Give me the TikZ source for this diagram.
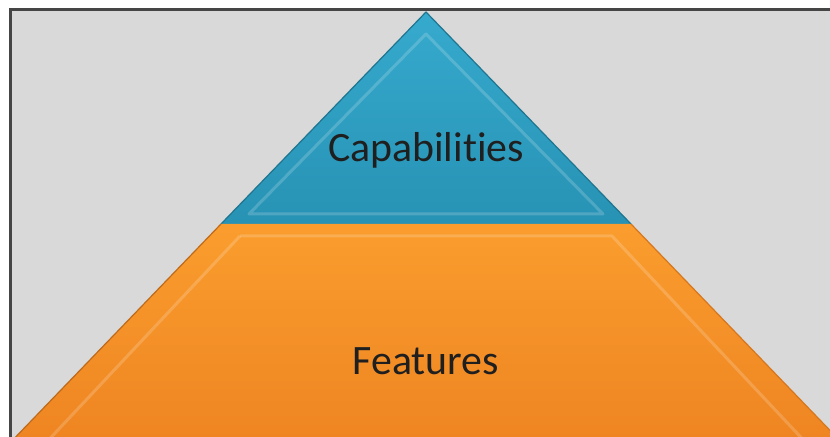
\documentclass[tikz,border=0pt]{standalone}
\usepackage{fontspec}
\setmainfont[Ligatures=NoCommon]{Carlito}
\usetikzlibrary{calc}
\definecolor{bgGray}{HTML}{D9D9D9}
\definecolor{frameGray}{HTML}{454545}
\definecolor{capBlue}{HTML}{36AACD}
\definecolor{capBlueDark}{HTML}{2792B4}
\definecolor{featOrange}{HTML}{FA9D2E}
\definecolor{featOrangeDark}{HTML}{EE8421}
\tikzset{
  frame/.style={draw=frameGray,line width=3bp},
  level/.style={font=\fontsize{42}{50}\selectfont,text=black!88},
  bevel/.style={draw=white,line width=3bp,opacity=0.18,line join=round},
  rim/.style={line width=1.2bp,line join=round}
}

\begin{document}
\begin{tikzpicture}[x=1bp,y=-1bp]
  \useasboundingbox (0,0) rectangle (830,437);
  % margin and backdrop (run past the page edge)
  \fill[white] (-5,-5) rectangle (840,447);
  \fill[bgGray] (10,10) rectangle (840,447);
  \draw[frame] (10,447) -- (10,10) -- (840,10);
  % corners of the pyramid
  \coordinate (apex) at (426,12);
  \coordinate (midL) at (221,224);
  \coordinate (midR) at (631,224);
  \coordinate (baseL) at (6,447);
  \coordinate (baseR) at (846,447);
  % top tier
  \shade[top color=capBlue,bottom color=capBlueDark]
    (apex) -- (midR) -- (midL) -- cycle;
  \draw[bevel] (426,34) -- (603,214) -- (249,214) -- cycle;
  \draw[rim,draw=capBlueDark!80!black] (midL) -- (apex) -- (midR);
  % bottom tier
  \shade[top color=featOrange,bottom color=featOrangeDark]
    (midL) -- (midR) -- (baseR) -- (baseL) -- cycle;
  \draw[bevel] (240,236) -- (612,236) -- (810,447);
  \draw[bevel] (240,236) -- (42,447);
  \draw[rim,draw=featOrangeDark!80!black] (baseL) -- (midL);
  \draw[rim,draw=featOrangeDark!90!black] (midR) -- (baseR);
  % labels
  \node[level] (capabilities) at (426,150) {Capabilities};
  \node[level] (features) at (426,361) {Features};
\end{tikzpicture}
\end{document}
